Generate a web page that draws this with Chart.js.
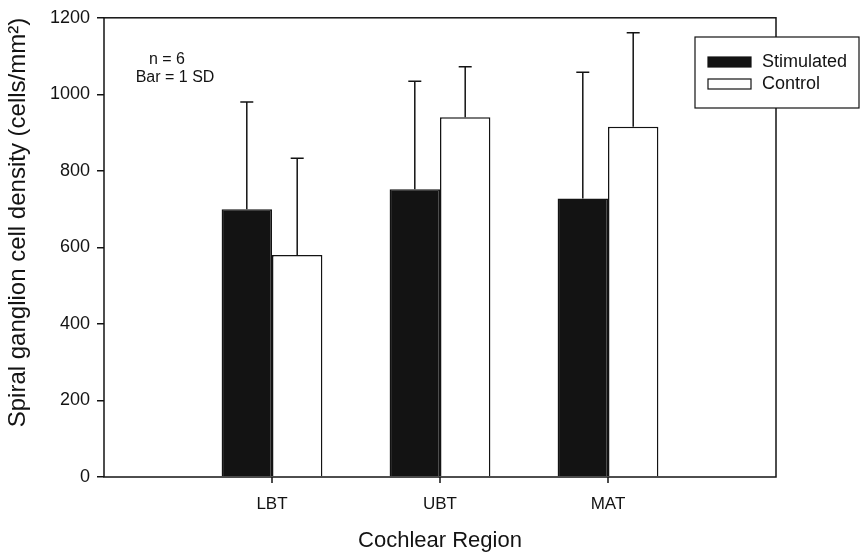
<!DOCTYPE html>
<html>
<head>
<meta charset="utf-8">
<script src="https://cdn.jsdelivr.net/npm/chart.js@4/dist/chart.umd.min.js"></script>
<style>
  html, body { margin: 0; padding: 0; background: #fff; }
  #wrap { width: 861px; height: 558px; }
</style>
</head>
<body>
<div id="wrap"><canvas id="density-graph" width="861" height="558"></canvas></div>
<script>
// cochlear regions and spiral ganglion cell density (cells/mm2), mean and 1 SD
var regions = ['LBT', 'UBT', 'MAT'];
var stimulatedMean = [700, 752, 728];
var stimulatedSD = [280, 282, 330];
var controlMean = [580, 940, 915];
var controlSD = [253, 132, 246];
var yTicks = [0, 200, 400, 600, 800, 1000, 1200];

var ink = '#131313';
var fontFamily = "'Liberation Sans', Arial, Helvetica, sans-serif";

// empty slot at each end so the three groups sit at 1/4, 2/4, 3/4 of the axis
var labels = [''].concat(regions, ['']);
function pad(arr) { return [null].concat(arr, [null]); }

// upward error bars (1 SD) drawn from the bar tops
var errorBars = {
  id: 'errorBars',
  afterDatasetsDraw: function(chart) {
    var ctx = chart.ctx;
    var y = chart.scales.y;
    ctx.save();
    ctx.strokeStyle = ink;
    ctx.lineWidth = 1.5;
    chart.data.datasets.forEach(function(ds, i) {
      var meta = chart.getDatasetMeta(i);
      meta.data.forEach(function(bar, j) {
        var v = ds.data[j];
        if (v == null) return;
        var top = y.getPixelForValue(v + ds.sd[j]);
        ctx.beginPath();
        ctx.moveTo(bar.x, bar.y);
        ctx.lineTo(bar.x, top);
        ctx.moveTo(bar.x - 6.5, top);
        ctx.lineTo(bar.x + 6.5, top);
        ctx.stroke();
      });
    });
    ctx.restore();
  }
};

// frame, x tick marks, note text and boxed legend
var frame = {
  id: 'frame',
  afterDraw: function(chart) {
    var ctx = chart.ctx;
    var a = chart.chartArea;
    var x = chart.scales.x;
    ctx.save();
    ctx.strokeStyle = ink;
    ctx.lineWidth = 1.5;
    ctx.strokeRect(a.left, a.top, a.right - a.left, a.bottom - a.top);

    // small ticks under the axis at each region
    ctx.beginPath();
    regions.forEach(function(r) {
      var px = x.getPixelForValue(labels.indexOf(r));
      ctx.moveTo(px, a.bottom);
      ctx.lineTo(px, a.bottom + 6);
    });
    ctx.stroke();

    ctx.fillStyle = ink;
    ctx.font = '16px ' + fontFamily;
    ctx.textAlign = 'center';
    ctx.textBaseline = 'middle';
    ctx.fillText('n = 6', 167, 60);
    ctx.fillText('Bar = 1 SD', 175, 78);

    // legend
    ctx.fillStyle = '#fff';
    ctx.fillRect(695, 37, 164, 71);
    ctx.lineWidth = 1.2;
    ctx.strokeRect(695, 37, 164, 71);
    chart.data.datasets.forEach(function(ds, i) {
      var y0 = 57 + i * 22;
      ctx.fillStyle = ds.backgroundColor;
      ctx.fillRect(708, y0, 43, 10);
      ctx.strokeStyle = ink;
      ctx.strokeRect(708, y0, 43, 10);
      ctx.fillStyle = ink;
      ctx.font = '18px ' + fontFamily;
      ctx.textAlign = 'left';
      ctx.fillText(ds.label, 762, y0 + 5);
    });
    ctx.restore();
  }
};

var ctx = document.getElementById('density-graph').getContext('2d');
var densityGraph = new Chart(ctx, {
  type: 'bar',
  data: {
    labels: labels,
    datasets: [
      {
        label: 'Stimulated',
        data: pad(stimulatedMean),
        sd: pad(stimulatedSD),
        backgroundColor: ink,
        borderColor: ink,
        borderWidth: 1.5
      },
      {
        label: 'Control',
        data: pad(controlMean),
        sd: pad(controlSD),
        backgroundColor: '#ffffff',
        borderColor: ink,
        borderWidth: 1.5
      }
    ]
  },
  options: {
    responsive: false,
    animation: false,
    layout: { padding: { left: 0, top: 14, right: 85, bottom: 0 } },
    datasets: {
      bar: { categoryPercentage: 0.6, barPercentage: 1.0 }
    },
    plugins: {
      legend: { display: false },
      tooltip: { enabled: false }
    },
    scales: {
      x: {
        offset: false,
        grid: { display: false },
        border: { display: false },
        ticks: {
          color: ink,
          padding: 9,
          maxRotation: 0,
          autoSkip: false,
          font: { family: fontFamily, size: 17 }
        },
        title: {
          display: true,
          text: 'Cochlear Region',
          color: ink,
          padding: { top: 14 },
          font: { family: fontFamily, size: 22 }
        },
        afterFit: function(scale) { scale.height = 81; }
      },
      y: {
        min: 0,
        max: 1200,
        afterBuildTicks: function(scale) {
          scale.ticks = yTicks.map(function(v) { return { value: v }; });
        },
        grid: {
          drawOnChartArea: false,
          tickLength: 7,
          lineWidth: 1.5,
          color: ink
        },
        border: { display: false },
        ticks: {
          color: ink,
          padding: 7,
          font: { family: fontFamily, size: 18 },
          callback: function(value) { return String(value); }
        },
        title: {
          display: true,
          text: 'Spiral ganglion cell density (cells/mm²)',
          align: 'end',
          color: ink,
          padding: { top: 4, bottom: 0 },
          font: { family: fontFamily, size: 24 }
        },
        afterFit: function(scale) { scale.width = 104; }
      }
    }
  },
  plugins: [errorBars, frame]
});
</script>
</body>
</html>
